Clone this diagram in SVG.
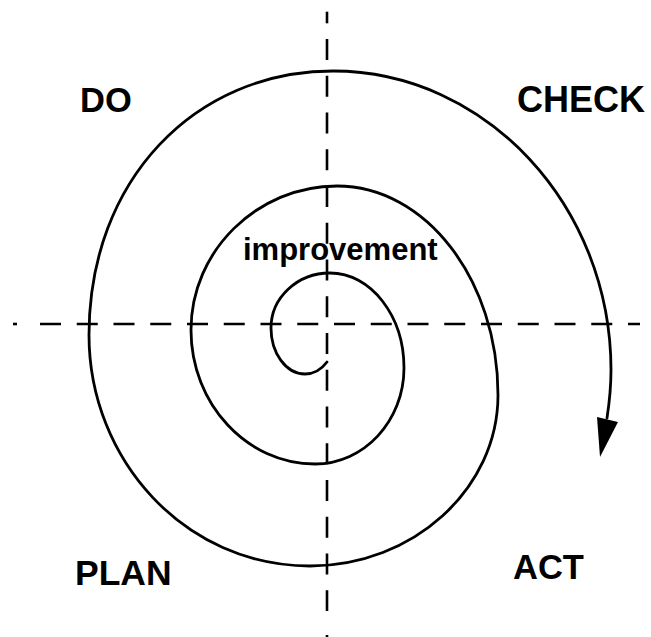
<svg xmlns="http://www.w3.org/2000/svg" width="651" height="637" viewBox="0 0 651 637">
<style>
.axis{stroke:#000;stroke-width:2.6;fill:none}
.dash{stroke-dasharray:21 15.75}
.spiral{stroke:#000;stroke-width:2.8;fill:none;stroke-linecap:round}
.lbl{font-family:"Liberation Sans",Arial,sans-serif;font-weight:bold;fill:#000}
</style>
<rect width="651" height="637" fill="#fff"/>
<g id="axes" class="connectors">
<line class="axis" x1="13" y1="324" x2="17" y2="324"/>
<line class="axis dash" x1="40" y1="324" x2="640" y2="324"/>
<line class="axis" x1="327" y1="11.7" x2="327" y2="23.3"/>
<line class="axis dash" x1="327" y1="39" x2="327" y2="611"/>
<line class="axis" x1="327" y1="635" x2="327" y2="637"/>
</g>
<g id="spiral" class="connectors">
<path class="spiral" d="M327,362 C321,370 313,374 305,374 C286,374 271,353 271,328 C271,298 297,273 330,273 C371,273 404,316 404,368 C404,421 364,464 315,464 C247,464 191,404 191,330 C191,251 257,186 337,186 C426,186 498,280 498,395 C498,489 413,566 310,566 C185,566 89,460 89,335 C89,180 195,71 333,71 C486,71 611,206 611,370 C611,390 609,405 607,418"/>
<polygon points="597,417 618,422 600,457" fill="#000"/>
</g>
<g id="label-do"><text class="lbl" x="80" y="112" font-size="34.5">DO</text></g>
<g id="label-check"><text class="lbl" x="517" y="112" font-size="36">CHECK</text></g>
<g id="label-improvement"><text class="lbl" x="243" y="260" font-size="31">improvement</text></g>
<g id="label-plan"><text class="lbl" x="75" y="585" font-size="35.5">PLAN</text></g>
<g id="label-act"><text class="lbl" x="513" y="579" font-size="34.5">ACT</text></g>
</svg>
